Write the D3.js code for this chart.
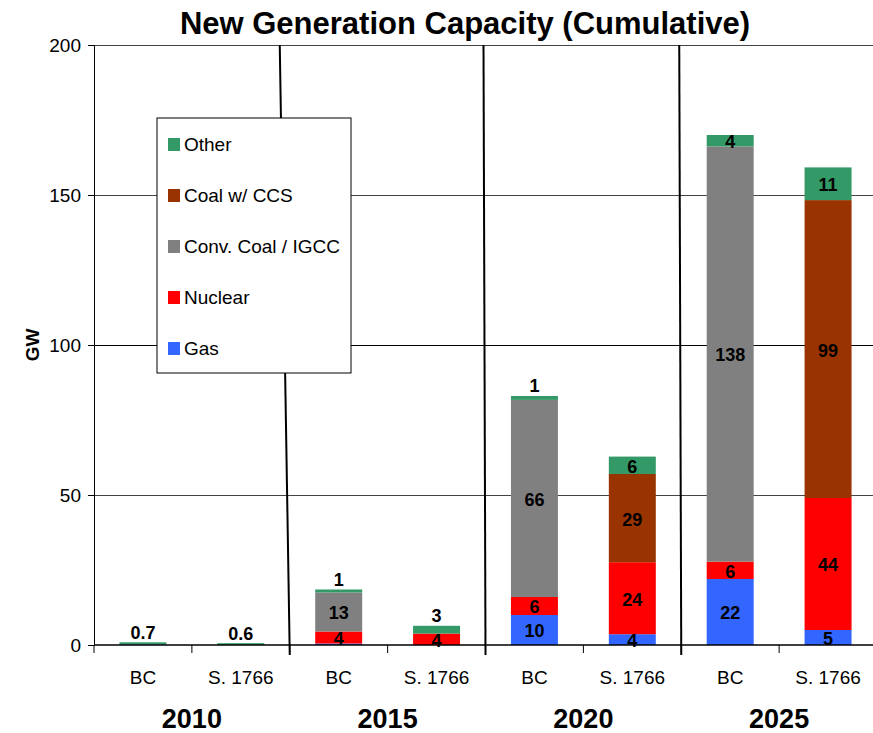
<!DOCTYPE html>
<html>
<head>
<meta charset="utf-8">
<script src="https://cdn.jsdelivr.net/npm/d3@7"></script>
<style>
  body { margin: 0; background: #fff; }
  text { font-family: "Liberation Sans", Arial, sans-serif; }
</style>
</head>
<body>
<svg width="873" height="733"></svg>
<script>
// categories
var years = ["2010", "2015", "2020", "2025"];
var scenarios = ["BC", "S. 1766"];

// series values (GW), one per bar: 2010 BC, 2010 S.1766, 2015 BC, ...
var gas      = [0.2, 0,   0.5, 0,   10,   3.6,  22,    5];
var nuclear  = [0,   0,   4,   3.8, 6,    24,   5.8,   44];
var convCoal = [0,   0,   13,  0,   65.7, 0,    138.4, 0];
var coalCCS  = [0,   0,   0,   0,   0,    29.4, 0,     99.3];
var other    = [0.7, 0.6, 1,   2.6, 1.3,  5.8,  3.8,   10.9];

var yTicks = [0, 50, 100, 150, 200];

var seriesNames = ["Gas", "Nuclear", "Conv. Coal / IGCC", "Coal w/ CCS", "Other"];
var seriesValues = [gas, nuclear, convCoal, coalCCS, other];
var colors = ["#3366ff", "#ff0000", "#808080", "#993300", "#339966"];

var svg = d3.select("svg");
var mLeft = 94, mRight = 877, mTop = 45, mBottom = 645;

// one row per bar
var bars = [];
years.forEach(function (yr, i) {
    scenarios.forEach(function (sc, j) {
        var k = i * 2 + j;
        var row = { key: yr + "|" + sc, year: yr, scen: sc };
        seriesNames.forEach(function (s, si) { row[s] = seriesValues[si][k]; });
        bars.push(row);
    });
});

var x = d3.scaleBand().domain(bars.map(function (d) { return d.key; })).range([mLeft, mRight]).padding(0);
var xg = d3.scaleBand().domain(years).range([mLeft, mRight]).padding(0);
var y = d3.scaleLinear().domain([0, 200]).range([mBottom, mTop]);
var barW = x.bandwidth() * 0.48;

var stack = d3.stack().keys(seriesNames)(bars);

// title
svg.append("text")
    .attr("x", 465).attr("y", 34)
    .attr("text-anchor", "middle")
    .attr("font-size", "31px").attr("font-weight", "bold")
    .text("New Generation Capacity (Cumulative)");

// gridlines
svg.append("g").selectAll("line")
    .data(yTicks.slice(1))
    .enter().append("line")
    .attr("x1", mLeft).attr("x2", mRight)
    .attr("y1", function (d) { return y(d); })
    .attr("y2", function (d) { return y(d); })
    .attr("stroke", function (d) { return d == 100 ? "#000" : "#444"; })
    .attr("stroke-width", 1)
    .attr("shape-rendering", "crispEdges");

// y axis
var yAxis = svg.append("g")
    .attr("transform", "translate(" + mLeft + ",0)")
    .call(d3.axisLeft(y).tickValues(yTicks).tickSize(6).tickPadding(7));
yAxis.select(".domain").attr("stroke", "#000");
yAxis.selectAll("text").attr("font-size", "19px").attr("fill", "#000")
    .style("font-family", "Liberation Sans, Arial, sans-serif");

svg.append("text")
    .attr("transform", "translate(39,345) rotate(-90)")
    .attr("text-anchor", "middle")
    .attr("font-size", "19px").attr("font-weight", "bold")
    .text("GW");

// group separators (slightly hand-drawn in the original)
var sepX = years.slice(1).map(function (yr) { return xg(yr); });
sepX.forEach(function (sx, i) {
    var topOff = i == 0 ? -10 : -2;
    svg.append("line")
        .attr("x1", sx + topOff).attr("y1", mTop)
        .attr("x2", sx).attr("y2", mBottom + 10)
        .attr("stroke", "#000").attr("stroke-width", 2);
});

// bars
var layer = svg.append("g").selectAll("g")
    .data(stack)
    .enter().append("g")
    .attr("fill", function (d, i) { return colors[i]; });

layer.selectAll("rect")
    .data(function (d) { return d; })
    .enter().append("rect")
    .attr("x", function (d) { return x(d.data.key) + (x.bandwidth() - barW) / 2; })
    .attr("y", function (d) { return y(d[1]); })
    .attr("width", barW)
    .attr("height", function (d) { return y(d[0]) - y(d[1]); });

// x axis
svg.append("line")
    .attr("x1", mLeft).attr("x2", mRight)
    .attr("y1", mBottom).attr("y2", mBottom)
    .attr("stroke", "#000").attr("stroke-width", 1.5);

svg.append("g").selectAll("line")
    .data(bars.map(function (d) { return x(d.key); }).concat([mRight]))
    .enter().append("line")
    .attr("x1", function (d) { return d; }).attr("x2", function (d) { return d; })
    .attr("y1", mBottom).attr("y2", mBottom + 8)
    .attr("stroke", "#000");

svg.append("g").selectAll("text")
    .data(bars)
    .enter().append("text")
    .attr("x", function (d) { return x(d.key) + x.bandwidth() / 2; })
    .attr("y", 684)
    .attr("text-anchor", "middle")
    .attr("font-size", "19px")
    .text(function (d) { return d.scen; });

svg.append("g").selectAll("text")
    .data(years)
    .enter().append("text")
    .attr("x", function (d) { return xg(d) + xg.bandwidth() / 2; })
    .attr("y", 728)
    .attr("text-anchor", "middle")
    .attr("font-size", "27px").attr("font-weight", "bold")
    .text(function (d) { return d; });

// data labels
var labels = [];
stack.forEach(function (s, si) {
    s.forEach(function (d) {
        var v = d[1] - d[0];
        if (v <= 0) return;
        if (v < 1 && seriesNames[si] != "Other") return;
        var h = y(d[0]) - y(d[1]);
        var cy = h < 10 ? y(d[1]) - 10 : (y(d[0]) + y(d[1])) / 2 + 1;
        labels.push({ x: x(d.data.key) + x.bandwidth() / 2, y: cy, t: v < 1 ? d3.format(".1f")(v) : d3.format(".0f")(v) });
    });
});

svg.append("g").selectAll("text")
    .data(labels)
    .enter().append("text")
    .attr("x", function (d) { return d.x; })
    .attr("y", function (d) { return d.y; })
    .attr("dy", "0.36em")
    .attr("text-anchor", "middle")
    .attr("font-size", "18px").attr("font-weight", "bold")
    .text(function (d) { return d.t; });

// legend
var lg = svg.append("g").attr("transform", "translate(157,118)");
lg.append("rect")
    .attr("width", 194).attr("height", 255)
    .attr("fill", "#fff").attr("stroke", "#000").attr("stroke-width", 1);

var items = seriesNames.slice().reverse();
var itemColors = colors.slice().reverse();
items.forEach(function (name, i) {
    var iy = 26 + i * 51;
    lg.append("rect")
        .attr("x", 11).attr("y", iy - 6)
        .attr("width", 12).attr("height", 13)
        .attr("fill", itemColors[i]);
    lg.append("text")
        .attr("x", 27).attr("y", iy)
        .attr("dy", "0.36em")
        .attr("font-size", "19px")
        .text(name);
});
</script>
</body>
</html>
